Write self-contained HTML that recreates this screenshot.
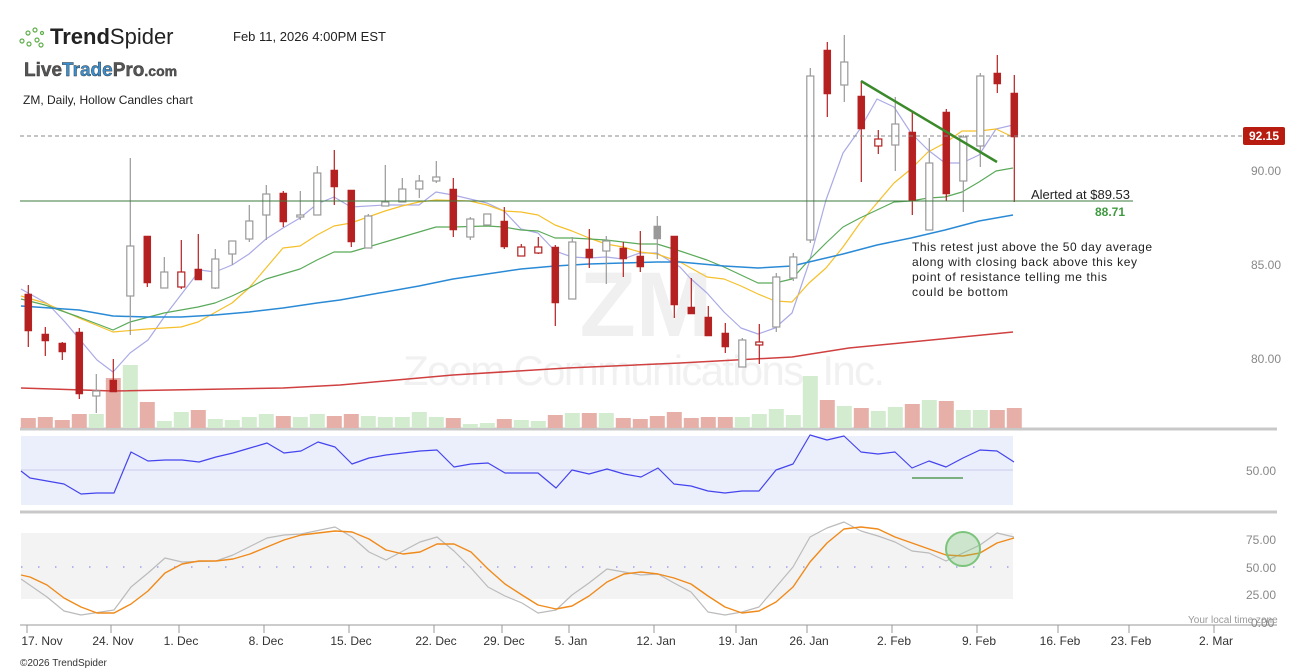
<!DOCTYPE html>
<html><head><meta charset="utf-8"><style>
html,body{margin:0;padding:0;background:#fff;}
body{width:1307px;height:672px;overflow:hidden;position:relative;font-family:"Liberation Sans","DejaVu Sans",sans-serif;}
svg{position:absolute;left:0;top:0;}
</style></head><body>
<svg id="s" width="1307" height="672" xmlns="http://www.w3.org/2000/svg" font-family="Liberation Sans, DejaVu Sans, sans-serif">
<text x="646" y="336" font-size="92" font-weight="bold" fill="#f0f0f0" text-anchor="middle">ZM</text>
<text x="403" y="385" font-size="42" fill="#f1f1f1" textLength="482">Zoom Communications, Inc.</text>
<g fill="none" stroke="#5fae4a" stroke-width="1.2">
<circle cx="22" cy="41" r="2"/><circle cx="28" cy="33" r="2"/><circle cx="29" cy="44" r="2"/><circle cx="35" cy="30" r="2"/><circle cx="37" cy="40" r="2"/><circle cx="41" cy="45" r="2"/><circle cx="42" cy="33" r="1.5"/>
</g>
<text x="50" y="44" font-size="22" fill="#222"><tspan font-weight="bold">Trend</tspan>Spider</text>
<text x="233" y="41" font-size="13" fill="#222">Feb 11, 2026 4:00PM EST</text>
<text x="24" y="76" font-size="19" font-weight="bold" fill="#555" stroke="#333" stroke-width="0.4">Live<tspan fill="#3a8fd0">Trade</tspan>Pro<tspan font-size="14">.com</tspan></text>
<text x="23" y="104" font-size="12" fill="#222">ZM, Daily, Hollow Candles chart</text>
<text x="20" y="666" font-size="10" fill="#333">©2026 TrendSpider</text>
<rect x="21" y="436" width="992" height="69" fill="#ebeefb"/>
<line x1="21" y1="470" x2="1013" y2="470" stroke="#c8ccee" stroke-width="1"/>
<rect x="21" y="533" width="992" height="66" fill="#f3f3f3"/>
<line x1="21" y1="567" x2="1013" y2="567" stroke="#a0a0ee" stroke-width="1.5" stroke-dasharray="1.5,15.5"/>
<line x1="20" y1="429" x2="1277" y2="429" stroke="#c8c8c8" stroke-width="3"/>
<line x1="20" y1="512" x2="1277" y2="512" stroke="#c8c8c8" stroke-width="3"/>
<line x1="20" y1="625" x2="1277" y2="625" stroke="#999" stroke-width="1"/>
<g id="vol"></g>
<g id="lines"></g>
<g id="cand"></g>
<line x1="20" y1="136" x2="1243" y2="136" stroke="#888" stroke-dasharray="4,3" stroke-width="1"/>
<line x1="20" y1="201" x2="1133" y2="201" stroke="#3d7a3d" stroke-width="1"/>
<line x1="861" y1="81" x2="997" y2="162" stroke="#3a8a2a" stroke-width="2.5"/>
<rect x="1243" y="127" width="42" height="18" rx="2" fill="#b81c10"/>
<text x="1264" y="140" font-size="12" font-weight="bold" fill="#fff" text-anchor="middle">92.15</text>
<text x="1031" y="199" font-size="13" fill="#222">Alerted at $89.53</text>
<text x="1095" y="216" font-size="12" font-weight="bold" fill="#3f9a3f">88.71</text>
<g font-size="12" fill="#222">
<text x="912" y="251" textLength="240">This retest just above the 50 day average</text>
<text x="912" y="266" textLength="225">along with closing back above this key</text>
<text x="912" y="281" textLength="195">point of resistance telling me this</text>
<text x="912" y="296" textLength="96">could be bottom</text>
</g>
<g font-size="12" fill="#888">
<text x="1251" y="175">90.00</text><text x="1251" y="269">85.00</text><text x="1251" y="363">80.00</text>
<text x="1246" y="475">50.00</text>
<text x="1246" y="544">75.00</text><text x="1246" y="572">50.00</text><text x="1246" y="599">25.00</text>
<text x="1251" y="627">0.00</text>
</g>
<text x="1188" y="623" font-size="10" fill="#999">Your local time zone</text>
<line x1="912" y1="478" x2="963" y2="478" stroke="#3a8a3a" stroke-width="1.2"/>
<circle cx="963" cy="549" r="17" fill="rgba(120,200,120,0.3)" stroke="#7cc47c" stroke-width="2"/>
<g id="ax" font-size="12" fill="#333"></g>
</svg>
<script>
var NS="http://www.w3.org/2000/svg";
function el(p,t,a){var e=document.createElementNS(NS,t);for(var k in a)e.setAttribute(k,a[k]);document.getElementById(p).appendChild(e);return e;}
var C=[[294,331,285,347,'r'],[334,341,327,356,'r'],[343,352,342,360,'r'],[332,394,328,399,'r'],[391,396,374,413,'h'],[380,392,359,392,'r'],[246,296,158,335,'h'],[236,283,236,287,'r'],[272,288,257,288,'h'],[272,287,240,289,'o'],[269,280,234,280,'r'],[259,288,249,289,'h'],[241,254,241,265,'h'],[221,239,205,242,'h'],[194,215,185,240,'h'],[193,222,191,227,'r'],[215,217,191,220,'h'],[173,215,166,215,'h'],[170,187,150,205,'r'],[190,242,190,247,'r'],
[216,248,214,248,'h'],[202,206,165,206,'h'],[189,202,178,202,'h'],[181,189,175,198,'h'],[177,181,161,183,'h'],[189,230,178,237,'r'],[219,237,217,240,'h'],[214,225,214,225,'h'],[221,247,207,249,'r'],[247,256,244,256,'o'],[247,253,237,254,'o'],[247,303,245,326,'r'],[242,299,237,299,'h'],[249,258,229,268,'r'],[241,251,236,284,'h'],[248,259,242,277,'r'],[256,267,231,272,'r'],[226,239,216,259,'g'],[236,305,236,318,'r'],
[307,314,278,314,'r'],[317,336,306,336,'r'],[333,347,323,353,'r'],[340,367,338,367,'h'],[342,345,324,364,'o'],[277,327,273,332,'h'],[257,278,253,281,'h'],[76,240,68,243,'h'],[50,94,42,117,'r'],[62,85,35,102,'h'],[96,129,81,182,'r'],[139,146,130,154,'o'],[124,145,97,171,'h'],[132,201,112,215,'r'],[163,230,138,230,'h'],[112,194,109,201,'r'],[137,181,135,212,'h'],[76,146,73,167,'h'],[73,84,55,93,'r'],[93,137,75,202,'r']];
var V=[[418,'r'],[417,'r'],[420,'r'],[414,'r'],[414,'g'],[378,'r'],[365,'g'],[402,'r'],[421,'g'],[412,'g'],[410,'r'],[419,'g'],[420,'g'],[417,'g'],[414,'g'],[416,'r'],[417,'g'],[414,'g'],[416,'r'],[414,'r'],[416,'g'],[417,'g'],[417,'g'],[412,'g'],[417,'g'],[418,'r'],[424,'g'],[423,'g'],[419,'r'],[420,'g'],[421,'g'],[415,'r'],[413,'g'],[413,'r'],[413,'g'],[418,'r'],[419,'r'],[416,'r'],[412,'r'],[418,'r'],[417,'r'],[417,'r'],[417,'g'],[414,'g'],[409,'g'],[415,'g'],[376,'g'],[400,'r'],[406,'g'],[408,'r'],[411,'g'],[407,'g'],[404,'r'],[400,'g'],[401,'r'],[410,'g'],[410,'g'],[410,'r'],[408,'r']];
for(var i=0;i<V.length;i++){var x=28.3+17*i;el('vol','rect',{x:x-7.5,y:V[i][0],width:15,height:428-V[i][0],fill:V[i][1]=='r'?'#e6b0a8':'#d3ecd0'});}
for(var i=0;i<C.length;i++){var c=C[i],x=28.3+17*i,t=c[4];
var col=(t=='r'||t=='o')?'#b52020':'#999';
el('cand','line',{x1:x,y1:c[2],x2:x,y2:c[3],stroke:col,'stroke-width':1.2});
var f=(t=='r')?'#b52020':(t=='g'?'#999':'#fff');
el('cand','rect',{x:x-3.5,y:c[0],width:7,height:Math.max(1.5,c[1]-c[0]),fill:f,stroke:col,'stroke-width':(t=='r'||t=='g')?0.5:1.2});}
function pl(pts,col,w){el('lines','polyline',{points:pts,fill:'none',stroke:col,'stroke-width':w,'stroke-linejoin':'round'});}
pl("21,289 48,304 65,322 97,360 113,372 130,353 148,340 167,313 200,270 215,272 232,265 249,254 266,239 283,228 300,218 317,204 334,197 351,207 385,205 419,205 436,192 453,195 487,203 504,211 521,229 538,233 555,251 572,257 589,258 606,257 623,259 640,253 657,253 680,267 690,278 707,293 724,312 741,328 758,334 775,328 792,313 809,263 826,200 843,153 860,129 877,99 894,107 911,133 928,150 945,163 962,163 979,155 996,129 1013,125","#aaaae6",1.2);
pl("21,296 45,303 79,318 113,332 147,329 181,327 198,322 232,303 249,288 266,268 283,248 300,246 317,235 334,226 351,223 368,217 385,211 402,206 419,202 436,200 470,201 487,205 504,211 521,212 538,215 555,225 572,231 589,238 606,244 623,247 640,252 657,254 680,262 707,277 724,279 741,286 758,294 775,301 792,302 809,283 826,268 843,247 860,223 877,203 894,183 911,169 928,152 945,143 962,131 979,131 996,129 1013,137","#f5c02a",1.2);
pl("21,299 45,305 79,317 113,330 130,322 164,313 198,307 215,303 232,296 249,288 266,279 283,274 300,269 317,260 334,252 351,252 368,247 385,242 402,237 419,232 436,227 453,227 487,226 504,227 521,230 538,231 555,238 572,238 589,239 606,240 623,242 640,244 657,244 680,251 707,260 724,267 741,275 758,283 775,283 792,279 809,260 826,243 843,227 860,218 877,210 894,202 911,201 928,198 945,197 962,192 979,182 996,171 1013,168","#5aaa5a",1.2);
pl("21,306 79,310 113,316 147,317 181,317 215,315 249,312 283,308 317,303 340,300 368,295 419,286 453,279 487,274 521,269 555,266 589,264 623,263 657,262 680,262 724,266 758,268 792,266 809,262 843,254 877,245 911,238 945,230 979,221 1013,215","#2a8ad6",1.5);
pl("21,388 113,391 283,388 340,385 453,375 567,368 680,363 792,357 849,348 1013,332","#d04040",1.5);
pl("21,471 30,478 64,484 81,494 97,493 114,493 131,452 148,461 165,460 182,460 199,462 216,457 233,453 250,448 267,443 284,453 301,451 318,442 335,447 352,464 369,458 386,455 403,453 420,451 437,450 454,467 471,464 488,463 505,473 538,473 556,488 572,470 589,474 607,469 624,474 641,477 658,468 674,484 691,486 708,491 725,493 742,491 759,491 776,470 793,464 810,435 827,440 844,436 861,452 878,454 895,452 912,468 929,461 946,467 963,458 980,450 997,451 1014,462","#4444ee",1.2);
pl("21,579 47,597 64,611 81,615 114,610 131,587 148,573 165,558 182,562 216,561 233,555 267,538 284,535 301,534 335,527 352,537 369,552 386,560 403,551 420,542 437,537 454,551 471,568 488,587 505,596 522,603 538,613 556,610 572,595 589,583 607,569 624,572 641,575 658,574 674,583 691,592 708,612 725,615 742,612 759,607 776,587 793,567 810,537 827,528 844,522 861,531 878,536 895,542 912,551 929,553 946,561 963,553 980,545 997,533 1014,537","#bbbbbb",1.2);
pl("21,575 30,577 47,585 64,598 81,607 97,613 114,613 131,604 148,591 165,573 182,564 199,561 216,561 233,559 250,554 267,547 284,540 301,535 318,533 335,531 352,532 369,539 386,550 403,554 420,552 437,544 454,544 471,552 488,569 505,584 522,595 538,605 556,609 572,606 589,596 607,582 624,574 641,572 658,574 674,578 691,584 708,596 725,607 742,613 759,611 776,602 793,587 810,562 827,543 844,529 861,527 878,529 895,537 912,543 929,549 946,555 963,556 980,553 997,543 1014,538","#f08a1a",1.4);
var T=[[27,"17. Nov",42],[111,"24. Nov"],[179,"1. Dec"],[264,"8. Dec"],[349,"15. Dec"],[434,"22. Dec"],[502,"29. Dec"],[569,"5. Jan"],[654,"12. Jan"],[736,"19. Jan"],[807,"26. Jan"],[892,"2. Feb"],[977,"9. Feb"],[1058,"16. Feb"],[1129,"23. Feb"],[1214,"2. Mar"]];
for(var i=0;i<T.length;i++){el('ax','line',{x1:T[i][0],y1:625,x2:T[i][0],y2:633,stroke:'#999'});var t=el('ax','text',{x:T[i][2]||T[i][0]+2,y:645,'text-anchor':'middle'});t.textContent=T[i][1];}
</script>
</body></html>
